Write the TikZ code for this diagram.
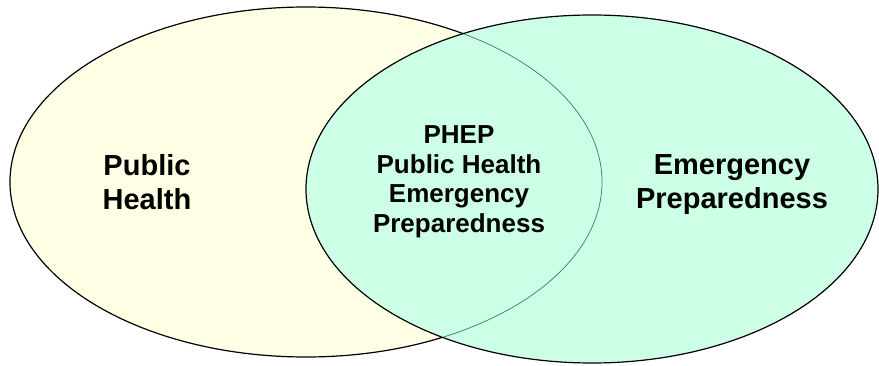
\documentclass[tikz,border=0pt]{standalone}
\usepackage{fontspec}
\setmainfont{Liberation Sans}
\usepackage{tikz}
\definecolor{cream}{HTML}{FFFFE6}
\definecolor{mint}{HTML}{CCFFE6}
\definecolor{seam}{HTML}{3B7A66}
\tikzset{
	field/.style={draw=black,line width=1.2pt},
	big/.style={align=center,font=\fontsize{29}{34}\selectfont\bfseries},
	small/.style={align=center,font=\fontsize{26}{29.5}\selectfont\bfseries}
}
\begin{document}
\begin{tikzpicture}[x=1pt,y=1pt]
						\useasboundingbox (0,0) rectangle (879,365);
						\fill [cream,field] (306,183) ellipse [x radius=296,y radius=175];
						\fill [mint,field] (592,176) ellipse [x radius=286,y radius=174];
						\begin{scope}
							\clip (592,176) ellipse [x radius=285,y radius=173];
							\draw [seam,line width=0.7pt] (306,183) ellipse [x radius=296,y radius=175];
						\end{scope}

						\node [big] (ph) at (147,183) {Public\\Health};
						\node [big] (ep) at (732,180) {Emergency\\Preparedness};
						\node [small] (phep) at (459,183) {PHEP\\Public Health\\Emergency\\Preparedness};
					\end{tikzpicture}
\end{document}
